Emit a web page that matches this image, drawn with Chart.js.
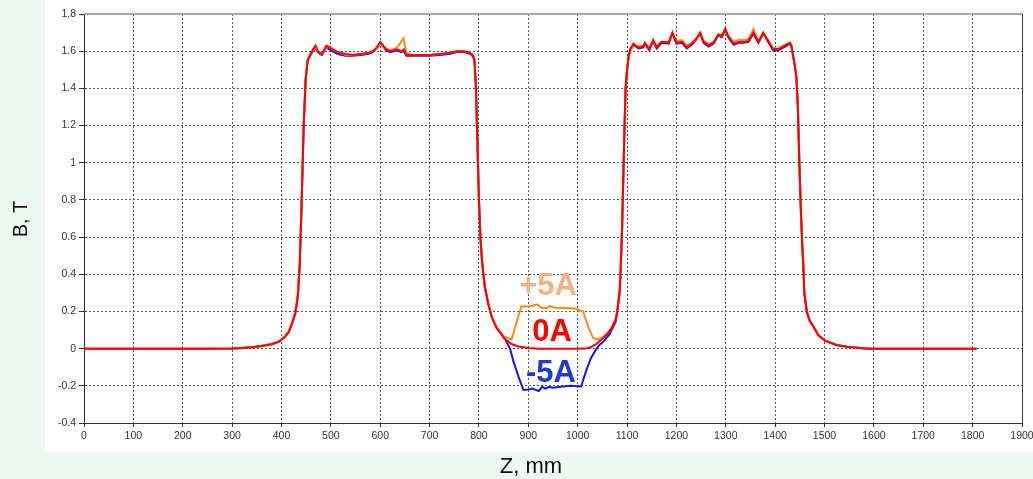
<!DOCTYPE html>
<html>
<head>
<meta charset="utf-8">
<title>B(Z) profile</title>
<script src="https://cdn.jsdelivr.net/npm/chart.js@4"></script>
<style>
    html, body { margin: 0; padding: 0; background: #eef8f2; }
    #wrap { position: relative; width: 1033px; height: 479px; }
</style>
</head>
<body>
<div id="wrap"><canvas id="fieldChart"></canvas></div>
<script>
// ============================================================
// Field profile B(Z) for three coil currents
// ============================================================

// ── Data (Z in mm, B in T) ──
const z0A = [
    0, 100, 200, 250, 300, 320, 340, 360, 380, 395,
    405, 415, 422, 428, 433, 437, 441, 445, 449, 453,
    458, 464, 469, 474, 478, 482, 487, 491, 497, 503,
    510, 520, 530, 545, 560, 575, 585, 593, 600, 606,
    612, 620, 628, 634, 643, 648, 653, 665, 680, 700,
    720, 740, 755, 768, 778, 785, 789, 791, 794, 797,
    800, 803, 806, 809, 812, 819, 826, 836, 846, 853,
    866, 880, 900, 920, 1000, 1020, 1025, 1038, 1049, 1059,
    1069, 1076, 1080, 1085, 1087, 1090, 1094, 1097, 1100, 1103,
    1106, 1113, 1123, 1133, 1136, 1145, 1153, 1160, 1170, 1184,
    1192, 1200, 1211, 1221, 1231, 1241, 1248, 1255, 1265, 1275,
    1285, 1292, 1299, 1305, 1316, 1326, 1336, 1346, 1356, 1366,
    1376, 1386, 1396, 1406, 1420, 1430, 1433, 1440, 1443, 1446,
    1449, 1452, 1455, 1457, 1459, 1464, 1470, 1477, 1488, 1501,
    1524, 1545, 1570, 1592, 1700, 1808
];
const b0A = [
    0, 0, 0, 0, 0.001, 0.003, 0.008, 0.014, 0.024, 0.038,
    0.058, 0.09, 0.14, 0.19, 0.28, 0.45, 0.8, 1.2, 1.45, 1.55,
    1.58, 1.61, 1.63, 1.6, 1.59, 1.585, 1.61, 1.63, 1.62, 1.61,
    1.6, 1.59, 1.585, 1.58, 1.585, 1.59, 1.6, 1.62, 1.65, 1.63,
    1.61, 1.6, 1.605, 1.61, 1.6, 1.61, 1.58, 1.58, 1.58, 1.58,
    1.585, 1.59, 1.6, 1.6, 1.595, 1.585, 1.57, 1.55, 1.4, 1.1,
    0.8, 0.6, 0.48, 0.4, 0.33, 0.24, 0.17, 0.11, 0.075, 0.05,
    0.025, 0.012, 0.004, 0, 0, 0.002, 0.006, 0.025, 0.05, 0.076,
    0.11, 0.15, 0.19, 0.31, 0.42, 0.65, 1.1, 1.4, 1.5, 1.57,
    1.61, 1.64, 1.62, 1.625, 1.645, 1.61, 1.66, 1.62, 1.65, 1.645,
    1.7, 1.645, 1.65, 1.62, 1.64, 1.67, 1.7, 1.65, 1.63, 1.645,
    1.69, 1.68, 1.72, 1.68, 1.64, 1.65, 1.65, 1.655, 1.7, 1.65,
    1.7, 1.655, 1.61, 1.61, 1.63, 1.645, 1.63, 1.52, 1.46, 1.3,
    1.0, 0.75, 0.55, 0.45, 0.3, 0.2, 0.15, 0.12, 0.07, 0.043,
    0.02, 0.01, 0.004, 0, 0, 0
];

const zPlus5A = [
    0, 100, 200, 250, 300, 320, 340, 360, 380, 395,
    405, 415, 422, 428, 433, 437, 441, 445, 449, 453,
    458, 464, 469, 474, 478, 482, 487, 491, 497, 503,
    510, 520, 530, 545, 560, 575, 585, 593, 600, 606,
    612, 620, 628, 634, 640, 647, 653, 665, 680, 700,
    720, 740, 755, 768, 778, 785, 789, 791, 794, 797,
    800, 803, 806, 809, 812, 819, 826, 836, 849, 866,
    876, 886, 895, 907, 917, 927, 937, 943, 954, 975,
    994, 1011, 1021, 1031, 1041, 1050, 1059, 1069, 1076, 1080,
    1085, 1087, 1090, 1094, 1097, 1100, 1103, 1106, 1113, 1123,
    1133, 1136, 1145, 1153, 1160, 1170, 1184, 1192, 1200, 1211,
    1221, 1231, 1241, 1248, 1255, 1265, 1275, 1285, 1292, 1299,
    1305, 1316, 1326, 1336, 1346, 1356, 1366, 1376, 1386, 1396,
    1406, 1420, 1430, 1433, 1440, 1443, 1446, 1449, 1452, 1455,
    1457, 1459, 1464, 1470, 1477, 1488, 1501, 1524, 1545, 1570,
    1592, 1700, 1808
];
const bPlus5A = [
    0, 0, 0, 0, 0.001, 0.003, 0.008, 0.015, 0.025, 0.04,
    0.06, 0.095, 0.145, 0.2, 0.29, 0.46, 0.8, 1.2, 1.45, 1.55,
    1.58, 1.605, 1.62, 1.6, 1.59, 1.585, 1.6, 1.62, 1.625, 1.615,
    1.6, 1.59, 1.58, 1.58, 1.585, 1.59, 1.6, 1.615, 1.64, 1.625,
    1.615, 1.605, 1.61, 1.62, 1.64, 1.67, 1.59, 1.58, 1.58, 1.58,
    1.585, 1.59, 1.6, 1.6, 1.595, 1.585, 1.57, 1.55, 1.4, 1.1,
    0.8, 0.6, 0.48, 0.4, 0.33, 0.24, 0.17, 0.11, 0.067, 0.05,
    0.14, 0.228, 0.226, 0.229, 0.238, 0.22, 0.218, 0.229, 0.22, 0.218,
    0.216, 0.2, 0.12, 0.058, 0.05, 0.06, 0.08, 0.115, 0.155, 0.2,
    0.32, 0.43, 0.65, 1.1, 1.4, 1.5, 1.56, 1.6, 1.635, 1.625,
    1.63, 1.64, 1.62, 1.655, 1.63, 1.65, 1.65, 1.69, 1.655, 1.66,
    1.63, 1.645, 1.665, 1.69, 1.655, 1.64, 1.65, 1.685, 1.69, 1.71,
    1.685, 1.65, 1.66, 1.66, 1.665, 1.72, 1.655, 1.695, 1.66, 1.615,
    1.615, 1.635, 1.645, 1.63, 1.52, 1.46, 1.3, 1.0, 0.75, 0.55,
    0.45, 0.3, 0.2, 0.15, 0.12, 0.07, 0.043, 0.02, 0.01, 0.004,
    0, 0, 0
];

const zMinus5A = [
    0, 100, 200, 250, 300, 320, 340, 360, 380, 395,
    405, 415, 422, 428, 433, 437, 441, 445, 449, 453,
    458, 464, 469, 474, 478, 482, 487, 491, 497, 503,
    510, 520, 530, 545, 560, 575, 585, 593, 600, 606,
    612, 620, 628, 634, 643, 648, 653, 665, 680, 700,
    720, 740, 755, 768, 778, 785, 789, 791, 794, 797,
    800, 803, 806, 809, 812, 819, 826, 836, 843, 853,
    863, 870, 880, 890, 900, 908, 915, 921, 928, 935,
    942, 950, 965, 985, 1007, 1017, 1027, 1037, 1044, 1051,
    1064, 1077, 1085, 1087, 1090, 1094, 1097, 1100, 1103, 1106,
    1113, 1123, 1133, 1136, 1145, 1153, 1160, 1170, 1184, 1192,
    1200, 1211, 1221, 1231, 1241, 1248, 1255, 1265, 1275, 1285,
    1292, 1299, 1305, 1316, 1326, 1336, 1346, 1356, 1366, 1376,
    1386, 1396, 1406, 1420, 1430, 1433, 1440, 1443, 1446, 1449,
    1452, 1455, 1457, 1459, 1464, 1470, 1477, 1488, 1501, 1524,
    1545, 1570, 1592, 1700, 1808
];
const bMinus5A = [
    0, 0, 0, 0, 0.001, 0.003, 0.008, 0.014, 0.024, 0.038,
    0.058, 0.09, 0.14, 0.19, 0.28, 0.45, 0.8, 1.2, 1.45, 1.55,
    1.575, 1.6, 1.62, 1.595, 1.585, 1.58, 1.6, 1.62, 1.61, 1.6,
    1.59, 1.58, 1.575, 1.575, 1.58, 1.585, 1.595, 1.615, 1.645, 1.625,
    1.605, 1.595, 1.6, 1.605, 1.595, 1.6, 1.575, 1.575, 1.575, 1.575,
    1.58, 1.585, 1.595, 1.595, 1.59, 1.58, 1.565, 1.55, 1.4, 1.1,
    0.8, 0.6, 0.48, 0.4, 0.33, 0.24, 0.17, 0.11, 0.09, 0.05,
    0, -0.07, -0.15, -0.222, -0.22, -0.215, -0.222, -0.228, -0.205, -0.215,
    -0.205, -0.21, -0.205, -0.2, -0.204, -0.12, -0.05, -0.005, 0.02, 0.035,
    0.075, 0.145, 0.3, 0.41, 0.65, 1.1, 1.4, 1.5, 1.565, 1.6,
    1.635, 1.615, 1.62, 1.64, 1.605, 1.655, 1.615, 1.645, 1.64, 1.695,
    1.64, 1.645, 1.615, 1.635, 1.665, 1.695, 1.645, 1.625, 1.64, 1.685,
    1.675, 1.715, 1.675, 1.635, 1.645, 1.645, 1.65, 1.695, 1.645, 1.695,
    1.65, 1.605, 1.605, 1.625, 1.64, 1.625, 1.52, 1.46, 1.3, 1.0,
    0.75, 0.55, 0.45, 0.3, 0.2, 0.15, 0.12, 0.07, 0.043, 0.02,
    0.01, 0.004, 0, 0, 0
];

// ── Series captions drawn inside the dip ──
const seriesNames = ['+5A', '0A', '-5A'];

const toPoints = (zs, bs) => zs.map((z, i) => ({ x: z, y: bs[i] }));

const tickColor = '#333';
const gridColor = '#555';
const tickFont  = { family: 'Liberation Sans', size: 10.5 };

// Mint page + white chart panel
const panelPlugin = {
    id: 'panel',
    beforeDraw(chart) {
        const { ctx, width, height } = chart;
        ctx.save();
        ctx.fillStyle = '#eef8f2';
        ctx.fillRect(0, 0, width, height);
        ctx.fillStyle = '#ffffff';
        ctx.fillRect(45, 0, width - 45, 452);
        ctx.restore();
    }
};

// Top / right frame, axis titles, in-plot captions
const decorPlugin = {
    id: 'decor',
    afterDraw(chart) {
        const { ctx, chartArea: a, scales: { x, y } } = chart;
        ctx.save();
        ctx.lineWidth = 2;
        ctx.strokeStyle = '#a9a9a9';
        ctx.beginPath();
        ctx.moveTo(a.left, a.top);
        ctx.lineTo(a.right + 1, a.top);
        ctx.stroke();
        ctx.lineWidth = 1;
        ctx.strokeStyle = '#444';
        ctx.beginPath();
        ctx.moveTo(Math.round(a.right) + 0.5, a.top);
        ctx.lineTo(Math.round(a.right) + 0.5, a.bottom);
        ctx.stroke();

        // axis titles
        ctx.fillStyle = '#111';
        ctx.textAlign = 'center';
        ctx.textBaseline = 'middle';
        ctx.font = '22px "Liberation Sans"';
        ctx.fillText('Z, mm', 531, 467);
        ctx.translate(21, 219);
        ctx.rotate(-Math.PI / 2);
        ctx.font = '20px "Liberation Sans"';
        ctx.fillText('B, T', 0, 0);
        ctx.restore();

        // captions
        ctx.save();
        ctx.font = 'bold 31px "Liberation Sans"';
        ctx.textAlign = 'center';
        ctx.textBaseline = 'alphabetic';
        const spots  = [[940, 0.29], [948, 0.04], [946, -0.18]];
        const colors = ['#f4b183', '#ff0000', '#1f3bd4'];
        seriesNames.forEach((name, i) => {
            ctx.fillStyle = colors[i];
            ctx.fillText(name, x.getPixelForValue(spots[i][0]), y.getPixelForValue(spots[i][1]));
        });
        ctx.restore();
    }
};

new Chart(document.getElementById('fieldChart').getContext('2d'), {
    type: 'line',
    data: {
        datasets: [
            { label: '0A',  data: toPoints(z0A, b0A),           borderColor: '#ff0000', borderWidth: 2 },
            { label: '+5A', data: toPoints(zPlus5A, bPlus5A),   borderColor: '#ff8c1a', borderWidth: 2 },
            { label: '-5A', data: toPoints(zMinus5A, bMinus5A), borderColor: '#1414f0', borderWidth: 2 }
        ]
    },
    options: {
        responsive: true,
        maintainAspectRatio: false,
        animation: false,
        elements: { point: { radius: 0 }, line: { tension: 0 } },
        layout: { padding: { top: 14, right: 0, left: 0, bottom: 0 } },
        plugins: { legend: { display: false }, tooltip: { enabled: false } },
        scales: {
            x: {
                type: 'linear',
                min: 0, max: 1900,
                ticks: {
                    stepSize: 100, autoSkip: false, maxRotation: 0, color: tickColor, font: tickFont, padding: 3,
                    callback: v => String(v)
                },
                grid: { color: gridColor, tickColor: '#333', tickLength: 4 },
                border: { color: '#333', width: 1, dash: [2, 2] },
                afterFit: s => { s.height = 56; s.paddingRight = 11; }
            },
            y: {
                min: -0.4, max: 1.8,
                ticks: {
                    stepSize: 0.2, color: tickColor, font: tickFont, padding: 3,
                    callback: v => String(Math.round(v * 10) / 10)
                },
                grid: { color: gridColor, tickColor: '#333', tickLength: 5 },
                border: { color: '#333', width: 1, dash: [2, 2] },
                afterFit: s => { s.width = 84; }
            }
        }
    },
    plugins: [panelPlugin, decorPlugin]
});
</script>
</body>
</html>
